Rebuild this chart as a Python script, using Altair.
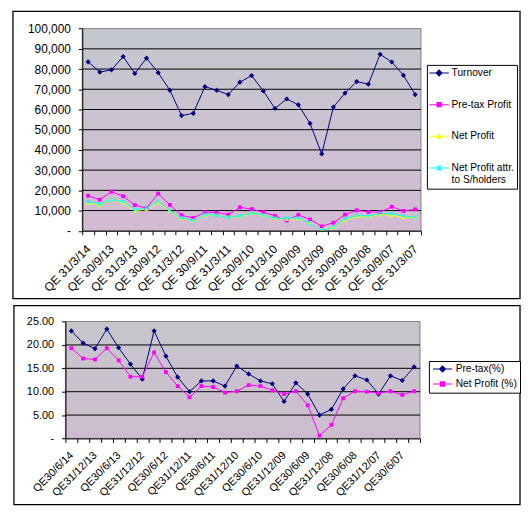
import altair as alt
import pandas as pd

# ---------------- data ----------------
quarters_top = ["QE 31/3/14", "QE 31/12/13", "QE 30/9/13", "QE 30/6/13", "QE 31/3/13",
                "QE 31/12/12", "QE 30/9/12", "QE 30/6/12", "QE 31/3/12", "QE 31/12/11",
                "QE 30/9/11", "QE 30/6/11", "QE 31/3/11", "QE 31/12/10", "QE 30/9/10",
                "QE 30/6/10", "QE 31/3/10", "QE 31/12/09", "QE 30/9/09", "QE 30/6/09",
                "QE 31/3/09", "QE 31/12/08", "QE 30/9/08", "QE 30/6/08", "QE 31/3/08",
                "QE 31/12/07", "QE 30/9/07", "QE 30/6/07", "QE 31/3/07"]

turnover = [83600, 78500, 79600, 86200, 77800, 85400, 78200, 69500, 57000, 58100,
            71300, 69500, 67400, 73500, 76800, 69200, 60500, 65200, 62300, 53100,
            38000, 61200, 68100, 73800, 72500, 87300, 83500, 76900, 67400]
pretax_profit = [17300, 15400, 19300, 17100, 12700, 11200, 18400, 12800, 7700, 6300,
                 9200, 9000, 8000, 11600, 10700, 9200, 7400, 5100, 7800, 5600,
                 2200, 4000, 8000, 10100, 9300, 9200, 11900, 9800, 10600]
net_profit = [13600, 12800, 15400, 13800, 9900, 10700, 13800, 9600, 6100, 5100,
              7700, 7700, 6700, 7000, 8700, 7700, 6100, 5800, 5900, 4000,
              300, 1600, 5400, 7000, 7000, 8000, 7700, 6700, 6700]
net_profit_attr = [14300, 13300, 15400, 14400, 10300, 11300, 14400, 9900, 6400, 5100,
                   8000, 7600, 6600, 7400, 8800, 7800, 6200, 6200, 6300, 3800,
                   200, 1800, 5900, 7500, 7300, 8500, 8400, 7200, 6800]

top_series = ["Turnover", "Pre-tax Profit", "Net Profit", "Net Profit attr. to S/holders"]
top_colors = ["#000080", "#FF00FF", "#FFFF00", "#00FFFF"]
top_ticks = [0, 10000, 20000, 30000, 40000, 50000, 60000, 70000, 80000, 90000, 100000]

quarters_bot = ["QE30/6/14", "QE31/3/14", "QE31/12/13", "QE30/9/13", "QE30/6/13",
                "QE31/3/13", "QE31/12/12", "QE30/9/12", "QE30/6/12", "QE31/3/12",
                "QE31/12/11", "QE30/9/11", "QE30/6/11", "QE31/3/11", "QE31/12/10",
                "QE30/9/10", "QE30/6/10", "QE31/3/10", "QE31/12/09", "QE30/9/09",
                "QE30/6/09", "QE31/3/09", "QE31/12/08", "QE30/9/08", "QE30/6/08",
                "QE31/3/08", "QE31/12/07", "QE30/9/07", "QE30/6/07", "QE31/3/07"]
pretax_pct = [23.0, 20.4, 19.2, 23.4, 19.4, 15.9, 12.7, 23.0, 17.6, 13.1,
              10.0, 12.3, 12.3, 11.2, 15.5, 13.8, 12.3, 11.7, 7.9, 11.9,
              9.5, 5.0, 6.2, 10.6, 13.4, 12.5, 9.5, 13.4, 12.4, 15.3]
net_pct = [19.3, 17.1, 16.9, 19.3, 16.7, 13.2, 13.2, 18.4, 14.2, 11.2,
           8.8, 11.2, 11.0, 9.8, 10.1, 11.4, 11.2, 10.3, 9.5, 10.1,
           7.1, 0.6, 2.9, 8.6, 10.1, 10.0, 9.7, 10.1, 9.3, 10.1]

bot_series = ["Pre-tax(%)", "Net Profit (%)"]
bot_colors = ["#000080", "#FF00FF"]
bot_ticks = [0, 5, 10, 15, 20, 25]

# ---------------- layout (pixels inside one view) ----------------
VIEW_W, VIEW_H = 512, 498
TOP = dict(plot=(70, 412, 17.4, 221.5), box=(0, 512, 0, 290), leg=(418, 54),
           bg=("#c4c8ce", "#d3bbd4"))
BOT = dict(plot=(53, 411, 313.2, 431.2), box=(1, 512, 297, 498), leg=(420, 353),
           bg=("#c6c6cb", "#cdbdcf"))

# ---------------- marker paths (styles) ----------------
DIAMOND = "M0,-0.75L0.75,0L0,0.75L-0.75,0Z"
SQUARE = "M-0.55,-0.55L0.55,-0.55L0.55,0.55L-0.55,0.55Z"
TRIANGLE = "M0,-0.65L0.65,0.5L-0.65,0.5Z"
XMARK = ("M-0.6,-0.45L-0.45,-0.6L0.6,0.45L0.45,0.6Z"
         "M-0.6,0.45L-0.45,0.6L0.6,-0.45L0.45,-0.6Z"
         "M-0.08,-0.6L0.08,-0.6L0.08,0.6L-0.08,0.6Z")


def shift(path, dx):
    toks = []
    num = ""
    for ch in path:
        if ch.isalpha():
            if num:
                toks.append(num)
                num = ""
            toks.append(ch)
        elif ch == ",":
            toks.append(num)
            num = ""
        else:
            num += ch
    if num:
        toks.append(num)
    i = 0
    res = ""
    while i < len(toks):
        t = toks[i]
        if t.isalpha():
            res += t
            i += 1
            if t in "ML":
                x = float(toks[i]) + dx
                y = float(toks[i + 1])
                res += f"{x:.3f},{y:.3f}"
                i += 2
        else:
            i += 1
    return res


def legend_path(marker, x0, x1):
    mid = (x0 + x1) / 2.0
    line = f"M{x0},-0.1L{x1},-0.1L{x1},0.1L{x0},0.1Z"
    return line + shift(marker, mid)


def long_df(cats, names, arrays):
    rows = []
    for s, arr in zip(names, arrays):
        for i, (c, v) in enumerate(zip(cats, arr)):
            rows.append({"cat": c, "idx": i, "series": s, "value": v})
    return pd.DataFrame(rows)


FONT = "Liberation Sans"


def panel(cats, names, arrays, colors, markers, ticks, ymax, label_fmt, zero_label,
          geo, leg_geom, ylab_size, xlab_size, xlab_pad, ylab_pad):
    px0, px1, py0, py1 = geo["plot"]
    bx0, bx1, by0, by1 = geo["box"]
    df = long_df(cats, names, arrays)
    xexpr = ("indexof(" + str(cats) + ", datum.value) % 2 == 0 ? datum.value : ''")
    xscale = alt.Scale(type="band", domain=cats, paddingInner=0, paddingOuter=0,
                       range=[px0, px1])
    yscale = alt.Scale(domain=[0, ymax], nice=False, zero=True, range=[py1, py0])
    cscale = alt.Scale(domain=names, range=colors)
    xaxis = alt.Axis(title=None, orient="bottom", offset=py1 - VIEW_H, labelAngle=-45,
                     labelExpr=xexpr, tickBand="extent",
                     tickSize=4, tickColor="black", domainColor="black", grid=False,
                     labelFont=FONT, labelFontSize=xlab_size, labelColor="black",
                     labelOverlap=False, labelAlign="right", labelBaseline="middle",
                     labelPadding=xlab_pad, zindex=1, labelBound=False)
    yexpr = ("datum.value == 0 ? '" + zero_label + "' : format(datum.value, '"
             + label_fmt + "')")
    yaxis = alt.Axis(title=None, orient="left", offset=-px0, values=ticks,
                     labelExpr=yexpr, tickSize=4,
                     tickColor="black", domainColor="black", grid=False,
                     labelFont=FONT, labelFontSize=ylab_size, labelColor="black",
                     labelPadding=ylab_pad, zindex=1, labelOverlap=False)

    one = pd.DataFrame({"k": [0]})
    border = alt.Chart(one).mark_rect(filled=False, stroke="black", strokeWidth=1.3).encode(
        x=alt.value(bx0), x2=alt.value(bx1), y=alt.value(by0), y2=alt.value(by1))

    bg = alt.Chart(one).mark_rect(
        fill=alt.LinearGradient(gradient="linear",
                                stops=[alt.GradientStop(color=geo["bg"][0], offset=0),
                                       alt.GradientStop(color=geo["bg"][1], offset=1)],
                                x1=0, x2=0, y1=0, y2=1),
        stroke="#808080", strokeWidth=1,
    ).encode(x=alt.value(px0), x2=alt.value(px1), y=alt.value(py0), y2=alt.value(py1))

    grid = alt.Chart(pd.DataFrame({"value": ticks[1:-1]})).mark_rule(
        color="black", strokeWidth=1).encode(
        x=alt.value(px0), x2=alt.value(px1),
        y=alt.Y("value:Q", scale=yscale, axis=yaxis))

    base = alt.Chart(df)
    lines = base.mark_line(strokeWidth=1).encode(
        x=alt.X("cat:N", sort=cats, scale=xscale, axis=xaxis),
        y=alt.Y("value:Q", scale=yscale, axis=yaxis),
        color=alt.Color("series:N", scale=cscale, legend=None),
        order=alt.Order("idx:Q"),
    )
    points = base.mark_point(filled=True, size=49, opacity=1).encode(
        x=alt.X("cat:N", sort=cats, scale=xscale, axis=xaxis),
        y=alt.Y("value:Q", scale=yscale, axis=yaxis),
        color=alt.Color("series:N", scale=cscale, legend=None),
        shape=alt.Shape("series:N", scale=alt.Scale(domain=names, range=markers),
                        legend=None),
    )
    (pad, rowpad, x0, x1, loff) = leg_geom
    lpaths = [legend_path(m, x0, x1) for m in markers]
    lexpr = ("datum.label == 'Net Profit attr. to S/holders' ? "
             "['Net Profit attr.', 'to S/holders'] : datum.label")

    def mk_leg():
        return alt.Legend(title=None, orient="none", legendX=geo["leg"][0],
                          legendY=geo["leg"][1],
                          strokeColor="black", fillColor="white", padding=pad,
                          rowPadding=rowpad, labelFont=FONT, labelFontSize=10.3,
                          labelColor="black", labelOffset=loff, symbolStrokeWidth=0,
                          symbolOpacity=1, labelExpr=lexpr, labelLimit=200,
                          symbolSize=100)

    legend_layer = base.transform_filter("datum.idx < 0").mark_point(
        filled=True, size=100, opacity=1).encode(
        color=alt.Color("series:N", scale=cscale, legend=mk_leg()),
        shape=alt.Shape("series:N", scale=alt.Scale(domain=names, range=lpaths),
                        legend=mk_leg()),
    )
    return alt.layer(border, bg, grid, lines, points, legend_layer).resolve_scale(
        color="independent", shape="independent")


top = panel(quarters_top, top_series,
            [turnover, pretax_profit, net_profit, net_profit_attr],
            top_colors, [DIAMOND, SQUARE, TRIANGLE, XMARK], top_ticks, 100000, ",",
            "-\u00a0\u00a0\u00a0\u00a0", TOP, (3, 21, -1.14, 2.8, 11.6),
            12, 12, 12, 8)

bottom = panel(quarters_bot, bot_series, [pretax_pct, net_pct], bot_colors,
               [DIAMOND, SQUARE], bot_ticks, 25, ".2f", "-\u00a0\u00a0\u00a0\u00a0",
               BOT, (3, 4, -0.8, 3.06, 13.7), 11, 11, 11, 8)

chart = alt.layer(top, bottom).resolve_scale(
    x="independent", y="independent", color="independent", shape="independent"
).properties(
    width=VIEW_W, height=VIEW_H,
    padding={"left": 0, "top": 0, "right": 0, "bottom": 0},
).configure(background="white", font=FONT).configure_view(stroke="transparent")

chart.save("out.html", embed_options={"renderer": "svg", "actions": False})
